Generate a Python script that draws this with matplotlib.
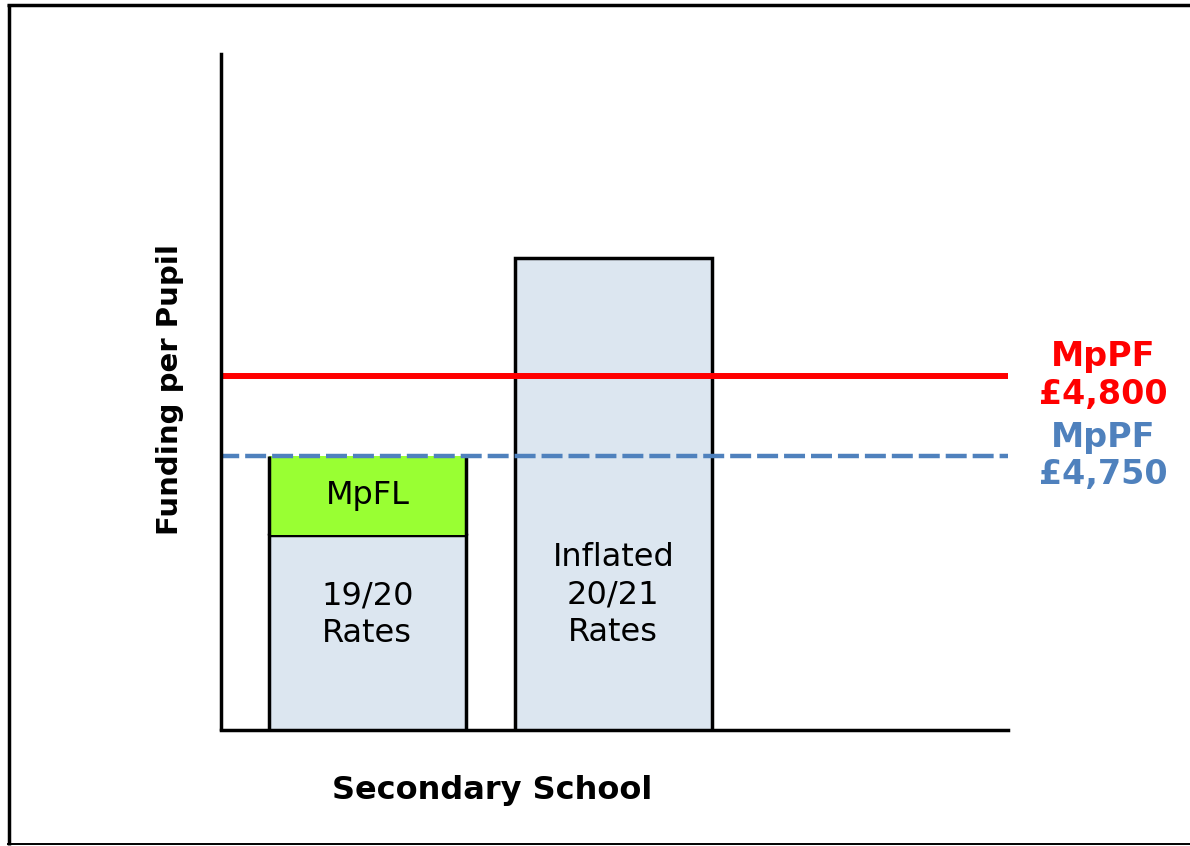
import matplotlib
matplotlib.use("Agg")
import matplotlib.pyplot as plt
from matplotlib.lines import Line2D
import matplotlib.transforms as mtransforms

plt.rcParams['font.family'] = ['DejaVu Sans']
plt.rcParams['lines.scale_dashes'] = False

# ---- data ----
categories = ["19/20\nRates", "Inflated\n20/21\nRates"]
positions = [0, 1]
base_values = [4701, 4873]          # funding per pupil (schematic)
mpfl_top_up = [49, 0]               # MpFL top-up on the first bar
mpfl_label = "MpFL"
mppf_levels = [4800, 4750]
mppf_labels = ["MpPF\n£4,800", "MpPF\n£4,750"]
xlabel = "Secondary School"
ylabel = "Funding per Pupil"

bar_color = "#DCE6F0"
mpfl_color = "#99FF33"
red = "#FF0000"
blue = "#4F81BD"
width = 0.8
edge_lw = 2.5

fig = plt.figure(figsize=(11.9, 8.46), dpi=100)
ax = fig.add_axes([221 / 1190, 1 - 729.5 / 846, 787 / 1190, 675.5 / 846])

# bars
ax.bar(positions, base_values, width=width, color=bar_color, edgecolor="black",
       linewidth=edge_lw, zorder=2)
# MpFL top-up (no top edge, covered by the dashed line)
ax.bar(positions[0], mpfl_top_up[0], bottom=base_values[0], width=width,
       color=mpfl_color, linewidth=0, zorder=2)
ax.vlines([positions[0] - width / 2, positions[0] + width / 2],
          base_values[0], base_values[0] + mpfl_top_up[0],
          colors="black", linewidth=edge_lw, zorder=3)

# MpPF lines
ax.axhline(mppf_levels[0], color=red, linewidth=4.3, zorder=4)
ax.axhline(mppf_levels[1], color=blue, linewidth=3.2, zorder=4,
           linestyle=(2, (15.1, 4.3)))

ax.set_xlim(-0.595, 2.605)
ax.set_ylim(4580, 5000)
ax.set_xticks([])
ax.set_yticks([])
for s in ["top", "right"]:
    ax.spines[s].set_visible(False)
for s in ["left", "bottom"]:
    ax.spines[s].set_linewidth(edge_lw)
    ax.spines[s].set_zorder(5)

# bar labels
ax.text(positions[0], base_values[0] + mpfl_top_up[0] / 2, mpfl_label,
        ha="center", va="center", fontsize=23, zorder=6)
trans = mtransforms.blended_transform_factory(ax.transData, ax.transAxes)
label_y = [0.1695, 0.199]
for p, lab, yy in zip(positions, categories, label_y):
    ax.text(p, yy, lab, transform=trans, ha="center", va="center",
            fontsize=23, linespacing=1.26, zorder=6)

# MpPF labels on the right
trans2 = mtransforms.blended_transform_factory(ax.transAxes, ax.transData)
for lvl, lab, c in zip(mppf_levels, mppf_labels, [red, blue]):
    ax.text(1.1207, lvl, lab, transform=trans2, ha="center", va="center",
            fontsize=24, fontweight="bold", color=c, linespacing=1.17,
            clip_on=False)

ax.set_xlabel(xlabel, fontsize=23, fontweight="bold")
ax.xaxis.label.set_va("center")
ax.xaxis.set_label_coords(0.344, -0.0896)
ax.set_ylabel(ylabel, fontsize=21, fontweight="bold")
ax.yaxis.label.set(va="center", ha="center", rotation_mode="default")
ax.yaxis.set_label_coords(-0.0648, 0.504)

# outer frame (open on the right)
fig.add_artist(Line2D([7 / 1190, 1.0], [1 - 5.5 / 846] * 2, color="black",
                      linewidth=2.5, solid_capstyle="butt",
                      transform=fig.transFigure))
fig.add_artist(Line2D([8.7 / 1190] * 2, [1 - 4 / 846, 1 - 845 / 846],
                      color="black", linewidth=2.5, solid_capstyle="butt",
                      transform=fig.transFigure))
fig.add_artist(Line2D([7 / 1190, 1.0], [1 - 844.3 / 846] * 2, color="black",
                      linewidth=1.4, solid_capstyle="butt",
                      transform=fig.transFigure))

fig.savefig("out.png", dpi=100)
